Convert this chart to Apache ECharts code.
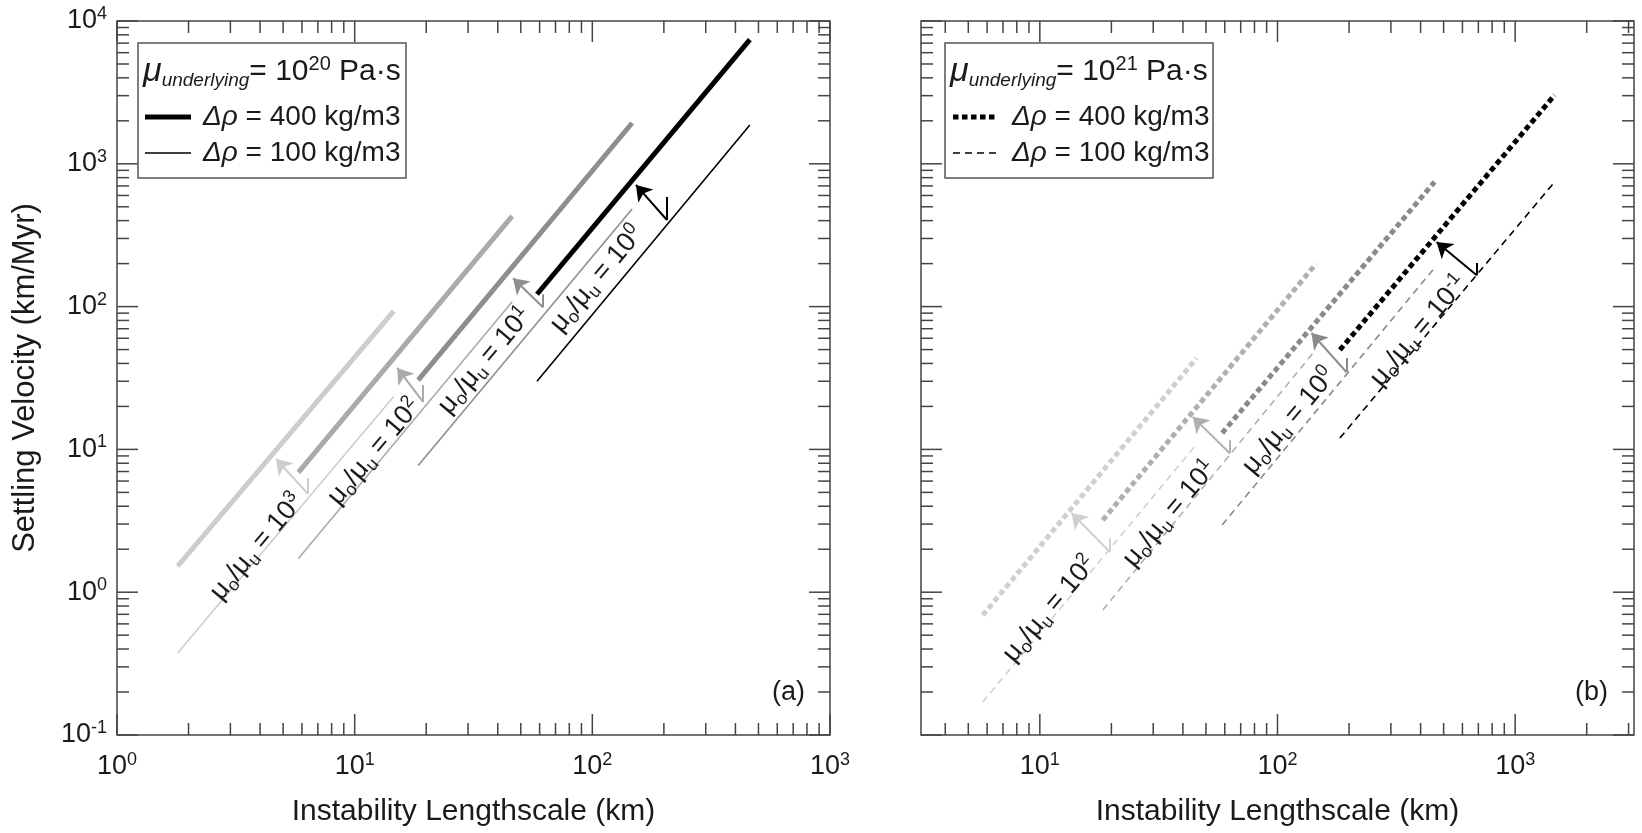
<!DOCTYPE html>
<html>
<head>
<meta charset="utf-8">
<script src="https://cdn.jsdelivr.net/npm/echarts@6/dist/echarts.min.js"></script>
<style>
  html, body { margin: 0; padding: 0; background: #fff; }
  #chart { width: 1642px; height: 833px; }
</style>
</head>
<body>
<div id="chart"></div>
<script>
// ---- values ----
// panel (a): mu_underlying = 1e20 Pa s, solid lines
var ratiosA = ['3', '2', '1', '0'];
var colorsA = ['#cdcdcd', '#aaaaaa', '#8e8e8e', '#000000'];
var lenA = [[1.8, 14.6], [5.8, 46], [18.5, 147], [58.5, 460]];
var vel400A = [[1.52, 93], [6.9, 430], [30.6, 1930], [122, 7400]];
var vel100A = [[0.375, 23.5], [1.72, 108], [7.7, 482], [30, 1870]];
var arrowStubA = [[6.36, 6.3], [19.4, 28.3], [62, 122], [206, 585]];
var arrowTailA = [[6.36, 4.88], [19.4, 21.5], [62, 99], [206, 404]];
var arrowTipA = [[4.67, 8.57], [15.1, 37.2], [46.4, 158], [152.5, 711]];
var labelPosA = [[3.88, 2.07], [12.1, 9.6], [35.3, 41.6], [104.5, 156]];

// panel (b): mu_underlying = 1e21 Pa s, dashed lines
var ratiosB = ['2', '1', '0', '-1'];
var colorsB = ['#d0d0d0', '#b0b0b0', '#8a8a8a', '#000000'];
var lenB = [[5.75, 45.7], [18.4, 145], [58.5, 458], [183, 1466]];
var vel400B = [[0.69, 43.6], [3.2, 199], [13.0, 747], [49.7, 3030]];
var vel100B = [[0.17, 10.9], [0.75, 50], [2.96, 187], [12.0, 747]];
var arrowStubB = [[19.7, 2.39], [63, 11.6], [195, 43.6], [689, 202]];
var arrowTailB = [[19.7, 1.91], [63, 9.4], [195, 34.8], [689, 166]];
var arrowTipB = [[13.6, 3.59], [44, 16.9], [139, 65.3], [467, 283]];
var labelPosB = [[11.0, 0.76], [35.2, 3.53], [112, 15.8], [393, 67.5]];

// axis extents and decade ticks
var xRangeA = [1, 1000];
var xRangeB = [Math.pow(10, 0.5), Math.pow(10, 3.5)];
var yRange = [0.1, 10000];
var majorXA = [1, 10, 100, 1000];
var majorXB = [10, 100, 1000];
var majorY = [0.1, 1, 10, 100, 1000, 10000];

var FONT = '"Liberation Sans", Arial, sans-serif';
var INK = '#1a1a1a';
var AXIS = '#444';

function logMinor(lo, hi) {
  var out = [];
  for (var d = -2; d <= 4; d++) {
    for (var m = 2; m <= 9; m++) {
      var v = m * Math.pow(10, d);
      if (v > lo * 1.0001 && v < hi * 0.9999) out.push(v);
    }
  }
  return out;
}

function powLabel(v) {
  var e = Math.round(Math.log10(v));
  if (Math.abs(Math.log10(v) - e) > 1e-6) return '';
  return '{b|10}{s|' + e + '}';
}
var powRich = {
  b: { fontSize: 27, fontFamily: FONT, color: INK },
  s: { fontSize: 18, fontFamily: FONT, color: INK, padding: [0, 0, 14, 0] }
};

function tickSeries(gi, vals, dir, len, ext) {
  return {
    type: 'custom', xAxisIndex: gi, yAxisIndex: gi, silent: true, clip: false, z: 5,
    data: vals.map(function (v) { return dir === 'x' ? [v, ext] : [ext, v]; }),
    renderItem: function (params, api) {
      var cs = params.coordSys;
      var p = api.coord([api.value(0), api.value(1)]);
      var st = { stroke: AXIS, lineWidth: 1.5 };
      if (dir === 'x') {
        var yb = cs.y + cs.height, yt = cs.y;
        return { type: 'group', children: [
          { type: 'line', shape: { x1: p[0], y1: yb, x2: p[0], y2: yb - len }, style: st },
          { type: 'line', shape: { x1: p[0], y1: yt, x2: p[0], y2: yt + len }, style: st }
        ] };
      }
      var xl = cs.x, xr = cs.x + cs.width;
      return { type: 'group', children: [
        { type: 'line', shape: { x1: xl, y1: p[1], x2: xl + len, y2: p[1] }, style: st },
        { type: 'line', shape: { x1: xr, y1: p[1], x2: xr - len, y2: p[1] }, style: st }
      ] };
    }
  };
}

function lineSeries(gi, xs, ys, color, width, dash) {
  return {
    type: 'line', xAxisIndex: gi, yAxisIndex: gi, showSymbol: false, silent: true,
    data: [[xs[0], ys[0]], [xs[1], ys[1]]],
    lineStyle: { color: color, width: width, type: dash || 'solid', cap: 'butt' },
    z: 3
  };
}

var ratioRich = {
  m: { fontSize: 27, fontFamily: FONT, color: INK },
  d: { fontSize: 18, fontFamily: FONT, color: INK, padding: [14, 0, 0, 0] },
  p: { fontSize: 18, fontFamily: FONT, color: INK, padding: [0, 0, 14, 0] }
};

function ratioLabels(gi, pos, ratios) {
  return {
    type: 'scatter', xAxisIndex: gi, yAxisIndex: gi, symbolSize: 0, silent: true, z: 6,
    itemStyle: { opacity: 1 },
    data: pos.map(function (p, i) { return { value: p, name: ratios[i] }; }),
    label: {
      show: true, position: 'inside', rotate: 50, color: INK, opacity: 1,
      textBorderWidth: 0,
      formatter: function (p) {
        return '{m|μ}{d|o}{m|/μ}{d|u}{m| = 10}{p|' + p.name + '}';
      },
      rich: ratioRich
    }
  };
}

// arrow from the thin (100 kg/m3) line to the thick (400 kg/m3) line
function arrowSeries(gi, tails, tips, colors) {
  return {
    type: 'lines', coordinateSystem: 'cartesian2d', xAxisIndex: gi, yAxisIndex: gi,
    silent: true, z: 4,
    symbol: ['none', 'arrow'], symbolSize: [0, 15],
    lineStyle: { width: 2, opacity: 1, curveness: 0 },
    data: tails.map(function (t, i) {
      return { coords: [t, tips[i]], lineStyle: { color: colors[i] } };
    })
  };
}
// short vertical bar at the arrow's foot
function stubSeries(gi, stubs, tails, colors) {
  return {
    type: 'lines', coordinateSystem: 'cartesian2d', xAxisIndex: gi, yAxisIndex: gi,
    silent: true, z: 4, symbol: ['none', 'none'],
    lineStyle: { width: 2, opacity: 1, curveness: 0 },
    data: tails.map(function (t, i) {
      return { coords: [t, stubs[i]], lineStyle: { color: colors[i] } };
    })
  };
}

var series = [];
for (var i = 0; i < 4; i++) {
  series.push(lineSeries(0, lenA[i], vel400A[i], colorsA[i], 5));
  series.push(lineSeries(0, lenA[i], vel100A[i], colorsA[i], 1.6));
  series.push(lineSeries(1, lenB[i], vel400B[i], colorsB[i], 5, [5.5, 3.5]));
  series.push(lineSeries(1, lenB[i], vel100B[i], colorsB[i], 1.6, [7, 5]));
}
series.push(arrowSeries(0, arrowTailA, arrowTipA, colorsA));
series.push(arrowSeries(1, arrowTailB, arrowTipB, colorsB));
series.push(stubSeries(0, arrowStubA, arrowTailA, colorsA));
series.push(stubSeries(1, arrowStubB, arrowTailB, colorsB));
series.push(ratioLabels(0, labelPosA, ratiosA));
series.push(ratioLabels(1, labelPosB, ratiosB));
series.push(tickSeries(0, majorXA, 'x', 21, yRange[0]));
series.push(tickSeries(0, logMinor(xRangeA[0], xRangeA[1]), 'x', 12, yRange[0]));
series.push(tickSeries(0, majorY, 'y', 21, xRangeA[0]));
series.push(tickSeries(0, logMinor(yRange[0], yRange[1]), 'y', 12, xRangeA[0]));
series.push(tickSeries(1, majorXB, 'x', 21, yRange[0]));
series.push(tickSeries(1, logMinor(xRangeB[0], xRangeB[1]), 'x', 12, yRange[0]));
series.push(tickSeries(1, majorY, 'y', 21, xRangeB[0]));
series.push(tickSeries(1, logMinor(yRange[0], yRange[1]), 'y', 12, xRangeB[0]));

function xAxisFor(gi, range) {
  return {
    type: 'log', logBase: 10, gridIndex: gi, min: range[0], max: range[1],
    axisLine: { show: false }, axisTick: { show: false }, splitLine: { show: false },
    axisLabel: { interval: 0, margin: 16, formatter: powLabel, rich: powRich },
    name: 'Instability Lengthscale (km)', nameLocation: 'middle', nameGap: 62,
    nameTextStyle: { fontSize: 30, fontFamily: FONT, color: INK }
  };
}
function yAxisFor(gi, range, showLabels) {
  var ax = {
    type: 'log', logBase: 10, gridIndex: gi, min: range[0], max: range[1],
    axisLine: { show: false }, axisTick: { show: false }, splitLine: { show: false },
    axisLabel: { show: showLabels, interval: 0, margin: 10, formatter: powLabel, rich: powRich }
  };
  if (showLabels) {
    ax.name = 'Settling Velocity (km/Myr)';
    ax.nameLocation = 'middle';
    ax.nameGap = 76;
    ax.nameRotate = 90;
    ax.nameTextStyle = { fontSize: 31, fontFamily: FONT, color: INK };
  }
  return ax;
}

function legendGraphics(x0, title, dashed) {
  var g = [];
  g.push({ type: 'rect', shape: { x: x0, y: 43, width: 268, height: 135 },
    style: { fill: '#fff', stroke: '#555', lineWidth: 1.5 }, z: 10 });
  g.push({ type: 'text', x: x0 + 5, y: 72, z: 11, style: {
    text: '{mu|μ}{sub|underlying}{t|= 10}{sup|' + title + '}{t| Pa·s}',
    verticalAlign: 'middle', fill: INK,
    rich: {
      mu: { fontSize: 34, fontStyle: 'italic', fontFamily: FONT, fill: INK },
      sub: { fontSize: 19, fontStyle: 'italic', fontFamily: FONT, fill: INK, padding: [18, 0, 0, 0] },
      t: { fontSize: 30, fontFamily: FONT, fill: INK },
      sup: { fontSize: 20, fontFamily: FONT, fill: INK, padding: [0, 0, 15, 0] }
    }
  } });
  var lx1 = dashed ? x0 + 8 : x0 + 7, lx2 = dashed ? x0 + 52 : x0 + 53;
  g.push({ type: 'line', z: 11, shape: { x1: lx1, y1: 117, x2: lx2, y2: 117 },
    style: { stroke: '#000', lineWidth: 5, lineDash: dashed ? [5.5, 3.5] : null } });
  g.push({ type: 'line', z: 11, shape: { x1: lx1, y1: 153, x2: lx2, y2: 153 },
    style: { stroke: '#000', lineWidth: 1.6, lineDash: dashed ? [7, 5] : null } });
  var tx = dashed ? x0 + 67 : x0 + 65;
  [['400', 117], ['100', 153]].forEach(function (r) {
    g.push({ type: 'text', x: tx, y: r[1], z: 11, style: {
      text: '{i|Δρ}{t| = ' + r[0] + ' kg/m3}', verticalAlign: 'middle', fill: INK,
      rich: {
        i: { fontSize: 28, fontStyle: 'italic', fontFamily: FONT, fill: INK },
        t: { fontSize: 28, fontFamily: FONT, fill: INK }
      }
    } });
  });
  return g;
}

var graphics = legendGraphics(138, '20', false).concat(legendGraphics(945, '21', true));
graphics.push({ type: 'text', x: 805, y: 693, z: 11, style: { text: '(a)', align: 'right',
  verticalAlign: 'middle', fontSize: 27, fontFamily: FONT, fill: INK } });
graphics.push({ type: 'text', x: 1608, y: 693, z: 11, style: { text: '(b)', align: 'right',
  verticalAlign: 'middle', fontSize: 27, fontFamily: FONT, fill: INK } });

var chart = echarts.init(document.getElementById('chart'));
chart.setOption({
  animation: false,
  backgroundColor: '#fff',
  textStyle: { fontFamily: FONT },
  grid: [
    { left: 117, top: 21, width: 713, height: 714, show: true, borderColor: AXIS, borderWidth: 1.5, backgroundColor: 'transparent' },
    { left: 921, top: 21, width: 713, height: 714, show: true, borderColor: AXIS, borderWidth: 1.5, backgroundColor: 'transparent' }
  ],
  xAxis: [xAxisFor(0, xRangeA), xAxisFor(1, xRangeB)],
  yAxis: [yAxisFor(0, yRange, true), yAxisFor(1, yRange, false)],
  graphic: graphics,
  series: series
});
</script>
</body>
</html>
